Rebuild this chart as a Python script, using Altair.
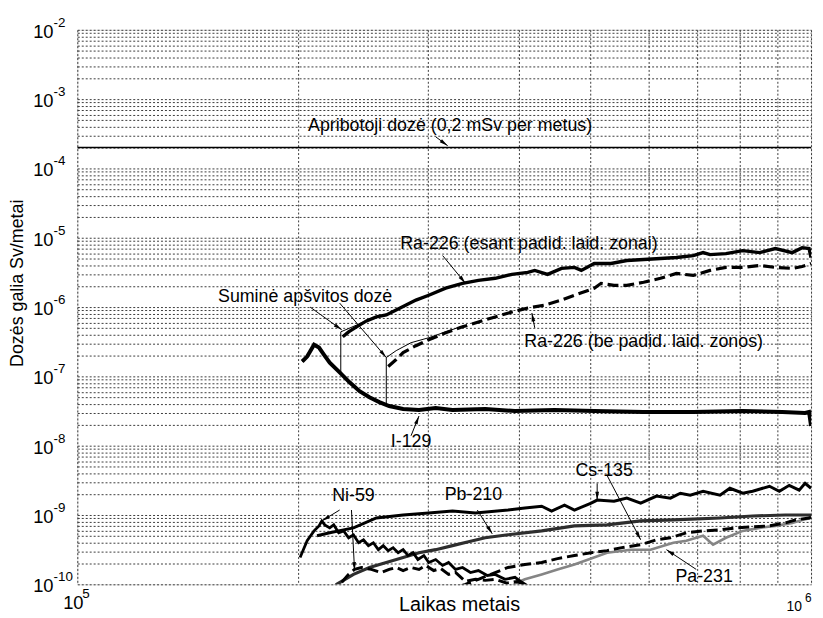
import altair as alt
import pandas as pd
import numpy as np

W, H = 741, 560
FONT = "Liberation Sans"

# ---------------- data ----------------
limit_t = [1e5, 1e6]
limit_d = [2e-4, 2e-4]

ra_esant_t = [2.300e5, 2.343e5, 2.402e5, 2.478e5, 2.556e5, 2.637e5, 2.720e5, 2.806e5, 2.894e5, 3.013e5,
              3.177e5, 3.350e5, 3.521e5, 3.711e5, 3.912e5, 4.111e5, 4.202e5, 4.375e5, 4.570e5, 4.759e5,
              4.863e5, 5.064e5, 5.338e5, 5.610e5, 5.914e5, 6.235e5, 6.554e5, 6.909e5, 7.127e5, 7.284e5,
              7.656e5, 8.071e5, 8.508e5, 8.941e5, 9.428e5, 9.725e5, 9.938e5, 1.0e6]
ra_esant_d = [3.73e-7, 4.39e-7, 5.18e-7, 6.31e-7, 7.20e-7, 7.69e-7, 9.06e-7, 1.07e-6, 1.26e-6, 1.48e-6,
              1.87e-6, 2.20e-6, 2.43e-6, 2.60e-6, 2.96e-6, 3.16e-6, 3.38e-6, 2.96e-6, 3.61e-6, 3.73e-6,
              3.38e-6, 4.25e-6, 4.25e-6, 4.69e-6, 4.85e-6, 5.01e-6, 5.18e-6, 5.53e-6, 6.10e-6, 5.70e-6,
              5.90e-6, 6.52e-6, 6.10e-6, 6.97e-6, 6.10e-6, 7.20e-6, 6.97e-6, 5.18e-6]

ra_be_t = [2.653e5, 2.720e5, 2.780e5, 2.894e5, 3.013e5, 3.177e5, 3.350e5, 3.521e5, 3.711e5, 3.912e5,
           4.111e5, 4.335e5, 4.570e5, 4.759e5, 5.064e5, 5.174e5, 5.389e5, 5.610e5, 5.914e5, 6.235e5,
           6.554e5, 6.909e5, 7.284e5, 7.656e5, 8.071e5, 8.508e5, 8.941e5, 9.428e5, 9.725e5, 1.0e6]
ra_be_d = [1.39e-7, 1.75e-7, 2.20e-7, 2.77e-7, 3.38e-7, 4.25e-7, 5.18e-7, 6.10e-7, 7.20e-7, 8.48e-7,
           9.67e-7, 1.07e-6, 1.26e-6, 1.48e-6, 1.87e-6, 2.20e-6, 2.06e-6, 2.06e-6, 2.28e-6, 2.60e-6,
           3.06e-6, 2.86e-6, 3.38e-6, 3.73e-6, 3.73e-6, 3.98e-6, 3.73e-6, 3.61e-6, 3.85e-6, 4.25e-6]

i129_t = [2.025e5, 2.057e5, 2.102e5, 2.135e5, 2.168e5, 2.208e5, 2.278e5, 2.350e5, 2.425e5, 2.501e5,
          2.580e5, 2.661e5, 2.780e5, 2.922e5, 3.079e5, 3.246e5, 3.597e5, 3.949e5, 4.471e5, 5.064e5,
          5.914e5, 6.909e5, 8.071e5, 9.140e5, 9.815e5, 9.938e5, 1.0e6]
i129_d = [1.64e-7, 1.93e-7, 2.86e-7, 2.60e-7, 2.06e-7, 1.58e-7, 1.14e-7, 8.21e-8, 6.10e-8, 5.01e-8,
          4.25e-8, 3.73e-8, 3.38e-8, 3.27e-8, 3.49e-8, 3.27e-8, 3.38e-8, 3.16e-8, 3.27e-8, 3.16e-8,
          3.06e-8, 3.06e-8, 3.16e-8, 3.06e-8, 2.96e-8, 3.06e-8, 1.93e-8]

sum1_t = [2.025e5, 2.057e5, 2.102e5, 2.135e5, 2.168e5, 2.208e5, 2.278e5, 2.286e5, 2.286e5, 2.343e5,
          2.402e5, 2.478e5, 2.556e5]
sum1_d = [1.64e-7, 1.93e-7, 2.86e-7, 2.60e-7, 2.06e-7, 1.58e-7, 1.14e-7, 1.12e-7, 4.39e-7, 4.90e-7,
          5.50e-7, 6.40e-7, 7.30e-7]

sum2_t = [2.025e5, 2.057e5, 2.102e5, 2.135e5, 2.168e5, 2.208e5, 2.278e5, 2.350e5, 2.425e5, 2.501e5,
          2.580e5, 2.637e5, 2.637e5, 2.720e5, 2.850e5, 3.013e5, 3.177e5, 3.350e5]
sum2_d = [1.64e-7, 1.93e-7, 2.86e-7, 2.60e-7, 2.06e-7, 1.58e-7, 1.14e-7, 8.21e-8, 6.10e-8, 5.01e-8,
          4.25e-8, 3.85e-8, 1.87e-7, 2.35e-7, 3.06e-7, 3.61e-7, 4.39e-7, 5.30e-7]

cs_t = [2.122e5, 2.208e5, 2.379e5, 2.556e5, 2.780e5, 3.013e5, 3.246e5, 3.488e5, 3.864e5, 4.074e5,
        4.294e5, 4.430e5, 4.613e5, 4.759e5, 5.016e5, 5.111e5, 5.389e5, 5.610e5, 5.859e5, 6.158e5,
        6.432e5, 6.636e5, 6.845e5, 7.127e5, 7.515e5, 7.752e5, 8.071e5, 8.325e5, 8.776e5, 9.053e5,
        9.339e5, 9.634e5, 9.815e5, 1.0e6]
cs_d = [5.01e-10, 5.53e-10, 6.52e-10, 9.06e-10, 1.0e-9, 1.07e-9, 1.14e-9, 1.07e-9, 1.18e-9, 1.26e-9,
        1.34e-9, 1.14e-9, 1.39e-9, 1.18e-9, 1.48e-9, 1.64e-9, 1.58e-9, 1.75e-9, 1.48e-9, 1.87e-9,
        1.75e-9, 2.06e-9, 1.93e-9, 2.20e-9, 1.93e-9, 2.43e-9, 2.06e-9, 2.20e-9, 2.60e-9, 2.20e-9,
        2.68e-9, 2.28e-9, 2.86e-9, 2.43e-9]

cs_dash_t = [3.329e5, 3.381e5, 3.521e5, 3.711e5, 3.864e5, 4.074e5, 4.294e5, 4.513e5, 4.759e5, 5.016e5,
             5.272e5, 5.523e5, 5.859e5, 6.158e5, 6.432e5, 6.761e5, 7.127e5, 7.515e5, 7.897e5, 8.325e5,
             8.776e5, 9.223e5, 9.515e5, 9.938e5, 1.0e6]
cs_dash_d = [9.5e-11, 1.0e-10, 1.18e-10, 1.48e-10, 1.75e-10, 1.93e-10, 2.06e-10, 2.35e-10, 2.60e-10, 2.86e-10,
             3.06e-10, 3.38e-10, 3.73e-10, 4.39e-10, 4.69e-10, 5.53e-10, 5.90e-10, 6.10e-10, 6.52e-10, 6.74e-10,
             6.97e-10, 7.69e-10, 8.48e-10, 9.06e-10, 9.36e-10]

ni_t = [2.012e5, 2.057e5, 2.102e5, 2.135e5, 2.154e5, 2.174e5, 2.208e5, 2.236e5, 2.271e5, 2.307e5,
        2.343e5, 2.379e5, 2.417e5, 2.455e5, 2.493e5, 2.532e5, 2.572e5, 2.612e5, 2.653e5, 2.694e5,
        2.737e5, 2.780e5, 2.823e5, 2.868e5, 2.912e5, 2.967e5, 3.013e5, 3.079e5, 3.147e5, 3.206e5,
        3.277e5, 3.350e5, 3.434e5, 3.521e5, 3.620e5, 3.711e5, 3.828e5, 3.949e5, 4.036e5, 4.137e5]
ni_d = [2.43e-10, 4.25e-10, 5.90e-10, 6.97e-10, 8.21e-10, 7.20e-10, 6.52e-10, 7.20e-10, 5.53e-10, 5.90e-10,
        4.69e-10, 5.18e-10, 3.98e-10, 4.39e-10, 3.61e-10, 3.98e-10, 3.16e-10, 3.61e-10, 3.06e-10, 3.38e-10,
        2.86e-10, 3.16e-10, 2.60e-10, 2.86e-10, 2.28e-10, 2.60e-10, 2.06e-10, 2.28e-10, 1.87e-10, 2.06e-10,
        1.64e-10, 1.75e-10, 1.48e-10, 1.58e-10, 1.34e-10, 1.39e-10, 1.18e-10, 1.26e-10, 1.07e-10, 9.06e-11]

ni_dash_t = [2.293e5, 2.343e5, 2.387e5, 2.439e5, 2.516e5, 2.595e5, 2.661e5, 2.720e5, 2.780e5, 2.850e5,
             2.922e5, 2.985e5, 3.060e5, 3.128e5, 3.206e5, 3.277e5, 3.381e5, 3.488e5, 3.597e5, 3.711e5,
             3.852e5, 3.974e5, 4.137e5]
ni_dash_d = [1.07e-10, 1.39e-10, 1.64e-10, 1.75e-10, 1.64e-10, 1.48e-10, 1.64e-10, 1.75e-10, 1.58e-10, 1.75e-10,
             1.64e-10, 1.87e-10, 1.58e-10, 1.69e-10, 1.39e-10, 1.48e-10, 1.10e-10, 1.18e-10, 1.14e-10, 1.18e-10,
             1.04e-10, 1.10e-10, 9.06e-11]

pb_t = [2.223e5, 2.257e5, 2.379e5, 2.501e5, 2.637e5, 2.780e5, 2.922e5, 3.079e5, 3.246e5, 3.413e5,
        3.597e5, 3.864e5, 4.294e5, 4.759e5, 5.272e5, 5.859e5, 6.492e5, 7.515e5, 8.325e5, 9.223e5, 1.0e6]
pb_d = [8.4e-11, 1.0e-10, 1.39e-10, 1.75e-10, 2.06e-10, 2.43e-10, 2.86e-10, 3.16e-10, 3.61e-10, 4.11e-10,
        4.69e-10, 5.18e-10, 5.90e-10, 6.97e-10, 7.20e-10, 8.21e-10, 8.48e-10, 9.06e-10, 9.67e-10, 1.0e-9, 1.0e-9]

pa_t = [3.888e5, 3.986e5, 4.074e5, 4.294e5, 4.513e5, 4.759e5, 5.016e5, 5.272e5, 5.680e5, 6.044e5,
        6.294e5, 6.492e5, 6.761e5, 7.127e5, 7.353e5, 7.656e5, 8.071e5, 8.508e5, 8.941e5, 9.428e5,
        9.725e5, 1.0e6]
pa_d = [9.06e-11, 1.07e-10, 1.18e-10, 1.39e-10, 1.64e-10, 1.93e-10, 2.35e-10, 2.86e-10, 3.16e-10, 3.16e-10,
        3.61e-10, 3.98e-10, 4.25e-10, 5.01e-10, 3.73e-10, 4.69e-10, 5.90e-10, 6.52e-10, 6.97e-10, 7.69e-10,
        8.48e-10, 9.06e-10]

# annotation labels (centre positions)
label_text = ["Ra-226 (esant padid. laid. zonai)", "Suminė apšvitos dozė", "Ra-226 (be padid. laid. zonos)",
              "I-129", "Ni-59", "Pb-210", "Cs-135", "Pa-231"]
label_t = [4.126e5, 2.044e5, 5.914e5, 2.850e5, 2.379e5, 3.466e5, 5.224e5, 7.149e5]
label_d = [8.21e-6, 1.39e-6, 3.16e-7, 1.14e-8, 1.87e-9, 1.93e-9, 4.25e-9, 1.26e-10]
limit_label = ["Apribotoji dozė (0,2 mSv per metus)"]
limit_label_t = [5.031e5]
limit_label_d = [4.11e-4]

# arrows (tail -> head)
arrow_t1 = [3.079e5, 3.147e5, 2.076e5, 2.278e5, 4.202e5, 2.850e5, 2.278e5, 2.364e5, 3.509e5, 5.111e5, 5.272e5, 6.975e5]
arrow_d1 = [2.86e-4, 5.53e-6, 1.0e-6, 1.14e-6, 5.01e-7, 1.39e-8, 1.18e-9, 1.18e-9, 1.18e-9, 2.86e-9, 3.73e-9, 1.64e-10]
arrow_t2 = [3.197e5, 3.381e5, 2.293e5, 2.637e5, 4.164e5, 2.922e5, 2.154e5, 2.387e5, 3.677e5, 5.111e5, 5.859e5, 6.353e5]
arrow_d2 = [2.13e-4, 2.20e-6, 4.69e-7, 1.87e-7, 8.21e-7, 2.68e-8, 8.21e-10, 1.58e-10, 5.35e-10, 1.64e-9, 4.39e-10, 3.16e-10]

y_exponents = [-2, -3, -4, -5, -6, -7, -8, -9, -10]

# ---------------- chart ----------------
xs = alt.Scale(type="log", domain=[1e5, 1e6])
ys = alt.Scale(type="log", domain=[1e-10, 1e-2])

x_grid_vals = [k * 1e5 for k in range(1, 11)]
y_grid_vals = [m * 10.0 ** e for e in range(-10, -2) for m in range(1, 10)] + [1e-2]

GRID = dict(labels=False, ticks=False, domain=False, grid=True, title=None,
            gridColor="#3c3c3c", gridDash=[2, 2], gridWidth=1, gridOpacity=1)
XAX = alt.Axis(values=x_grid_vals, **GRID)
YAX = alt.Axis(values=y_grid_vals, **GRID)


def X(field):
    return alt.X(field, scale=xs, axis=XAX)


def Y(field):
    return alt.Y(field, scale=ys, axis=YAX)


def line_layer(t, d, color, width, dash=None):
    df = pd.DataFrame({"t": t, "d": d, "i": list(range(len(t)))})
    kw = dict(color=color, strokeWidth=width, clip=True)
    if dash:
        kw["strokeDash"] = dash
    return alt.Chart(df).mark_line(**kw).encode(x=X("t:Q"), y=Y("d:Q"), order="i:Q")


DASH = [11, 5]
layers = [
    line_layer(limit_t, limit_d, "black", 1.5),
    line_layer(pb_t, pb_d, "#2e2e2e", 3.2),
    line_layer(pa_t, pa_d, "#858585", 2.6),
    line_layer(cs_dash_t, cs_dash_d, "black", 3, DASH),
    line_layer(ni_dash_t, ni_dash_d, "black", 3, DASH),
    line_layer(ni_t, ni_d, "black", 2.8),
    line_layer(cs_t, cs_d, "black", 3),
    line_layer(sum1_t, sum1_d, "black", 1),
    line_layer(sum2_t, sum2_d, "black", 1),
    line_layer(ra_be_t, ra_be_d, "black", 3.2, DASH),
    line_layer(ra_esant_t, ra_esant_d, "black", 3.4),
    line_layer(i129_t, i129_d, "black", 4),
]

# arrows
t1 = np.array(arrow_t1); t2 = np.array(arrow_t2)
d1 = np.array(arrow_d1); d2 = np.array(arrow_d2)
dxp = (np.log10(t2) - np.log10(t1)) * W
dyp = -(np.log10(d2) - np.log10(d1)) * (H / 8.0)
ang = np.degrees(np.arctan2(dxp, -dyp)) % 360
arr_df = pd.DataFrame({"t1": arrow_t1, "d1": arrow_d1, "t2": arrow_t2, "d2": arrow_d2, "ang": ang})

arrow_lines = alt.Chart(arr_df).mark_rule(color="black", strokeWidth=1).encode(
    x=X("t1:Q"), y=Y("d1:Q"), x2="t2:Q", y2="d2:Q")
arrow_heads = alt.Chart(arr_df).mark_point(
    shape="M0,0L-0.4,1.8L0.4,1.8Z", filled=True, color="black", opacity=1, size=90, strokeWidth=0
).encode(x=X("t2:Q"), y=Y("d2:Q"), angle=alt.Angle("ang:Q", scale=None))
layers += [arrow_lines, arrow_heads]

LFS = 18
lab_df = pd.DataFrame({"t": label_t, "d": label_d, "label": label_text})
labels = alt.Chart(lab_df).mark_text(font=FONT, fontSize=LFS, color="black", align="center", baseline="middle").encode(
    x=X("t:Q"), y=Y("d:Q"), text="label:N")
lim_df = pd.DataFrame({"t": limit_label_t, "d": limit_label_d, "label": limit_label})
lim_label = alt.Chart(lim_df).mark_text(font=FONT, fontSize=LFS, color="black", align="right", baseline="middle").encode(
    x=X("t:Q"), y=Y("d:Q"), text="label:N")
layers += [labels, lim_label]

# y tick labels: "10" with superscript exponent
ydf = pd.DataFrame({"v": [10.0 ** e for e in y_exponents], "e": [str(e) for e in y_exponents]})
y_ten = alt.Chart(ydf).mark_text(font=FONT, fontSize=18.5, align="right", baseline="middle", dy=2, color="black").encode(
    x=alt.value(-24), y=Y("v:Q"), text=alt.value("10"))
y_exp = alt.Chart(ydf).mark_text(font=FONT, fontSize=13.5, align="left", baseline="middle", dy=-7, color="black").encode(
    x=alt.value(-24), y=Y("v:Q"), text="e:N")
layers += [y_ten, y_exp]

# x tick labels
xl_df = pd.DataFrame({"v": [1e5], "e": ["5"]})
x_ten_l = alt.Chart(xl_df).mark_text(font=FONT, fontSize=18.5, align="center", baseline="middle", dx=-4, color="black").encode(
    x=X("v:Q"), y=alt.value(H + 19), text=alt.value("10"))
x_exp_l = alt.Chart(xl_df).mark_text(font=FONT, fontSize=13.5, align="left", baseline="middle", dx=5, color="black").encode(
    x=X("v:Q"), y=alt.value(H + 10), text="e:N")
xr_df = pd.DataFrame({"v": [1e6], "e": ["6"]})
x_ten_r = alt.Chart(xr_df).mark_text(font=FONT, fontSize=14, align="center", baseline="middle", dx=-17, color="black").encode(
    x=X("v:Q"), y=alt.value(H + 23), text=alt.value("10"))
x_exp_r = alt.Chart(xr_df).mark_text(font=FONT, fontSize=12, align="left", baseline="middle", dx=-6, color="black").encode(
    x=X("v:Q"), y=alt.value(H + 14), text="e:N")
layers += [x_ten_l, x_exp_l, x_ten_r, x_exp_r]

# axis titles
x_title = alt.Chart(pd.DataFrame({"s": ["Laikas metais"]})).mark_text(
    font=FONT, fontSize=20, align="center", baseline="middle", color="black").encode(
    x=alt.value(386), y=alt.value(H + 21), text="s:N")
y_title = alt.Chart(pd.DataFrame({"s": ["Dozės galia Sv/metai"]})).mark_text(
    font=FONT, fontSize=18, align="center", baseline="middle", angle=270, color="black").encode(
    x=alt.value(-60), y=alt.value(256), text="s:N")
layers += [x_title, y_title]

chart = alt.layer(*layers).properties(
    width=W, height=H,
    padding={"left": 70, "top": 19, "right": 4, "bottom": 30},
    autosize=alt.AutoSizeParams(type="none"),
).configure_view(
    stroke="#222222", strokeWidth=1.5
).configure(background="white")

chart.save("out.html", embed_options={"renderer": "svg", "actions": False})
